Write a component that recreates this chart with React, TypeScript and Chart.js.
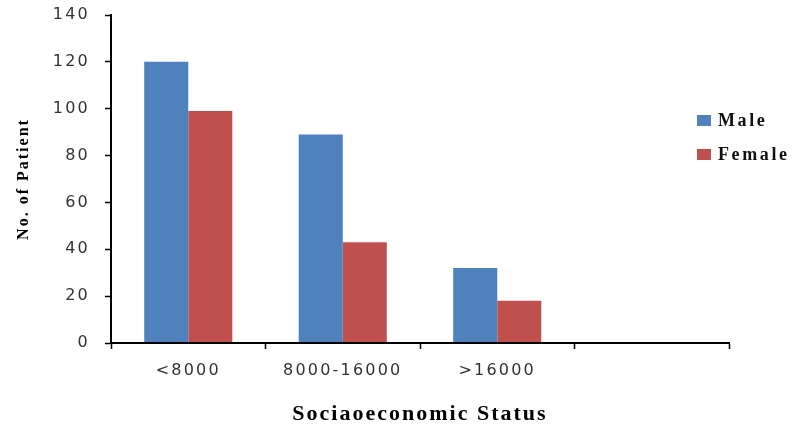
import React, { useEffect, useRef } from "react";
import { Chart, registerables } from "chart.js";

Chart.register(...registerables);

// ---- Data ----
const categories: string[] = ["<8000", "8000-16000", ">16000", ""];
const maleValues: (number | null)[] = [120, 89, 32, null];
const femaleValues: (number | null)[] = [99, 43, 18, null];
const seriesLabels: string[] = ["Male", "Female"];
const yMin = 0;
const yMax = 140;
const yStep = 20;

const BLUE = "#4F81BD";
const RED = "#C0504D";

// letter spacing for canvas text (titles before datasets, tick labels after)
const textSpacing = {
  id: "textSpacing",
  beforeDraw(chart: any, _a: any, opts: any) {
    (chart.ctx as any).letterSpacing = opts.titles;
  },
  afterDatasetsDraw(chart: any, _a: any, opts: any) {
    (chart.ctx as any).letterSpacing = opts.ticks;
  },
};

// legend drawn inside the plot region on the right, from dataset labels/colors
const sideLegend = {
  id: "sideLegend",
  afterDraw(chart: any, _a: any, opts: any) {
    const ctx = chart.ctx as any;
    ctx.save();
    ctx.letterSpacing = opts.letterSpacing;
    ctx.font = opts.font;
    ctx.textBaseline = "middle";
    ctx.textAlign = "left";
    chart.data.datasets.forEach((ds: any, i: number) => {
      const y = opts.y + i * opts.rowGap;
      ctx.fillStyle = ds.backgroundColor;
      ctx.fillRect(opts.x, y - opts.boxH / 2, opts.boxW, opts.boxH);
      ctx.fillStyle = opts.color;
      ctx.fillText(ds.label, opts.x + opts.boxW + opts.gap, y + 1);
    });
    ctx.restore();
  },
};

export default function App() {
  const canvasRef = useRef<HTMLCanvasElement | null>(null);

  useEffect(() => {
    if (!canvasRef.current) return;
    const chart = new Chart(canvasRef.current, {
      type: "bar",
      data: {
        labels: categories,
        datasets: [
          {
            label: seriesLabels[0],
            data: maleValues,
            backgroundColor: BLUE,
            borderWidth: 0,
            categoryPercentage: 0.57,
            barPercentage: 1.0,
          },
          {
            label: seriesLabels[1],
            data: femaleValues,
            backgroundColor: RED,
            borderWidth: 0,
            categoryPercentage: 0.57,
            barPercentage: 1.0,
          },
        ],
      },
      options: {
        responsive: false,
        animation: false,
        devicePixelRatio: 1,
        layout: { padding: { top: 15, right: 69, left: 0, bottom: 0 } },
        plugins: {
          legend: { display: false },
          tooltip: { enabled: false },
          textSpacing: { titles: "2px", ticks: "2.2px" },
          sideLegend: {
            x: 697,
            y: 120.5,
            rowGap: 34,
            boxW: 14,
            boxH: 11,
            gap: 7,
            font: "bold 18px 'Liberation Serif'",
            letterSpacing: "2.6px",
            color: "#111",
          },
        } as any,
        scales: {
          x: {
            ticks: {
              color: "#333",
              font: { family: "DejaVu Sans", size: 16 },
              padding: 12,
              maxRotation: 0,
              autoSkip: false,
              z: 1,
            },
            grid: {
              drawOnChartArea: false,
              drawTicks: true,
              tickLength: 6,
              color: "#000",
              tickWidth: 1.5,
              offset: true,
            },
            border: { display: true, color: "#000", width: 2, z: 1 },
            title: {
              display: true,
              text: "Sociaoeconomic Status",
              color: "#000",
              font: { family: "Liberation Serif", size: 22, weight: "bold" },
              padding: { top: 0, bottom: -2 },
            },
            afterFit: (s: any) => {
              s.height = 83;
              s.paddingLeft = 0;
              s.paddingRight = 0;
            },
          },
          y: {
            min: yMin,
            max: yMax,
            ticks: {
              stepSize: yStep,
              color: "#333",
              font: { family: "DejaVu Sans", size: 16 },
              padding: 15,
              z: 1,
            },
            grid: {
              drawOnChartArea: false,
              drawTicks: true,
              tickLength: 6,
              color: "#000",
              tickWidth: 1.5,
            },
            border: { display: true, color: "#000", width: 2, z: 1 },
            title: {
              display: true,
              text: "No. of Patient",
              color: "#000",
              font: { family: "Liberation Serif", size: 16, weight: "bold" },
              padding: { top: 14, bottom: 0 },
            },
            afterFit: (s: any) => {
              s.width = 111;
              s.paddingTop = 0;
              s.paddingBottom = 0;
            },
          },
        },
      } as any,
      plugins: [textSpacing, sideLegend],
    });
    return () => chart.destroy();
  }, []);

  return (
    <div
      style={{
        position: "absolute",
        left: 0,
        top: 0,
        width: 798,
        height: 426,
        background: "#fff",
      }}
    >
      <canvas
        ref={canvasRef}
        width={798}
        height={426}
        style={{ display: "block", width: 798, height: 426 }}
      />
    </div>
  );
}
